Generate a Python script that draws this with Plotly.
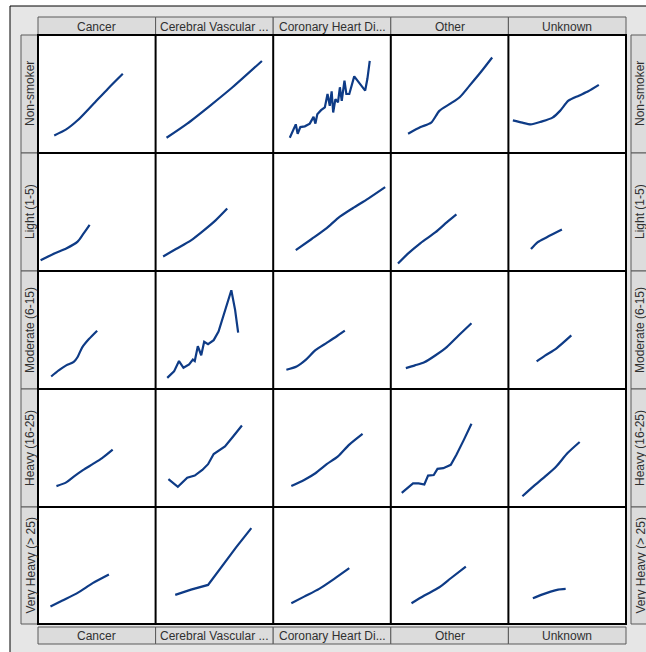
import plotly.graph_objects as go

# ---------------- data ----------------
row_labels = ["Non-smoker", "Light (1-5)", "Moderate (6-15)", "Heavy (16-25)", "Very Heavy (> 25)"]
col_labels = ["Cancer", "Cerebral Vascular ...", "Coronary Heart Di...", "Other", "Unknown"]

# each row: one list per column (Cancer, Cerebral, Coronary, Other, Unknown)
x_non_smoker = [
    [13.8, 24.0, 33.7, 46.5, 59.3, 72.1],
    [9.3, 26.9, 46.2, 65.4, 90.4],
    [14.1, 19.2, 20.8, 23.1, 26.9, 31.1, 34.3, 35.9, 37.5, 40.7, 43.9, 46.2, 48.1, 49.7,
     51.0, 52.9, 55.1, 56.7, 58.3, 60.6, 62.2, 64.7, 68.9, 73.7, 78.2, 80.1, 82.1],
    [14.7, 25.3, 34.3, 41.3, 51.0, 59.0, 67.0, 76.6, 86.2],
    [3.8, 11.9, 18.9, 27.9, 37.5, 43.9, 51.0, 59.9, 67.9, 76.9],
]
y_non_smoker = [
    [14.9, 20.0, 27.7, 40.9, 54.3, 67.1],
    [12.9, 24.9, 40.0, 55.7, 78.0],
    [12.9, 24.3, 16.3, 22.0, 22.6, 24.9, 30.6, 24.9, 32.9, 36.3, 38.6, 50.0, 40.0, 52.3,
     34.3, 45.7, 42.9, 55.7, 44.3, 61.4, 50.0, 50.0, 64.9, 59.1, 52.9, 62.9, 78.0],
    [16.3, 22.0, 25.7, 35.7, 42.0, 47.7, 57.1, 68.6, 80.9],
    [27.7, 25.7, 24.3, 26.6, 30.0, 35.7, 44.3, 48.6, 52.3, 57.7],
]

x_light = [
    [2.2, 14.4, 24.0, 33.7, 38.5, 43.9],
    [6.4, 17.3, 30.1, 39.7, 51.0, 60.9],
    [19.2, 32.7, 45.5, 55.1, 67.9, 80.8, 95.2],
    [6.1, 14.1, 25.3, 38.1, 47.8, 55.8],
    [19.2, 24.7, 32.7, 45.5],
]
y_light = [
    [9.1, 15.1, 19.1, 24.9, 31.4, 39.1],
    [12.3, 18.6, 26.0, 33.4, 42.9, 52.9],
    [17.7, 27.1, 36.3, 44.9, 53.4, 61.4, 71.1],
    [6.3, 14.3, 23.7, 32.9, 41.4, 48.0],
    [18.6, 24.3, 28.6, 35.1],
]

x_moderate = [
    [11.2, 17.6, 24.0, 30.4, 33.7, 37.5, 43.3, 50.3],
    [9.9, 15.7, 19.9, 23.7, 28.5, 31.7, 33.3, 35.9, 38.8, 41.3, 44.6, 49.4, 53.5, 57.4,
     61.2, 64.4, 67.6, 70.2],
    [11.2, 19.9, 27.9, 35.9, 45.5, 53.5, 60.9],
    [12.8, 20.5, 28.5, 38.1, 47.8, 57.4, 68.6],
    [24.0, 31.1, 40.7, 53.5],
]
y_moderate = [
    [10.6, 15.7, 20.0, 22.9, 27.1, 35.1, 42.3, 49.4],
    [9.4, 14.9, 23.7, 18.0, 20.9, 24.9, 23.7, 36.3, 28.6, 40.0, 38.0, 41.4, 48.6, 61.4,
     72.9, 83.7, 67.1, 47.7],
    [16.3, 19.1, 24.9, 32.9, 39.1, 44.3, 49.4],
    [17.7, 20.0, 22.6, 28.6, 35.7, 45.1, 55.7],
    [23.4, 28.3, 34.3, 45.4],
]

x_heavy = [
    [15.7, 24.0, 30.4, 38.5, 46.5, 54.5, 63.5],
    [10.9, 18.9, 26.9, 33.3, 39.7, 44.6, 49.4, 59.0, 65.4, 73.4],
    [15.4, 26.3, 35.9, 45.5, 55.1, 64.7, 76.0],
    [9.3, 14.1, 18.9, 23.7, 28.5, 31.7, 36.5, 39.7, 44.6, 51.0, 55.8, 62.2, 68.6],
    [11.9, 21.5, 31.1, 40.7, 50.3, 60.6],
]
y_heavy = [
    [17.7, 20.9, 25.7, 31.4, 36.3, 41.4, 48.6],
    [23.7, 17.1, 24.9, 26.6, 31.4, 36.3, 44.9, 51.4, 59.1, 69.1],
    [17.7, 22.9, 28.6, 36.3, 42.9, 52.9, 62.0],
    [12.0, 15.7, 20.0, 20.0, 19.1, 26.6, 27.1, 32.3, 32.9, 35.7, 44.3, 57.1, 70.6],
    [9.1, 17.7, 25.7, 34.3, 45.7, 55.1],
]

x_very_heavy = [
    [10.6, 20.8, 33.7, 46.5, 60.3],
    [16.7, 30.1, 44.6, 55.8, 68.6, 81.4],
    [15.4, 26.3, 39.1, 51.9, 64.7],
    [17.6, 28.5, 41.3, 51.0, 63.8],
    [20.8, 27.9, 35.9, 42.3, 48.7],
]
y_very_heavy = [
    [14.9, 20.0, 26.6, 34.9, 42.3],
    [24.9, 29.4, 33.4, 48.6, 65.7, 82.0],
    [17.7, 23.4, 30.0, 38.6, 47.7],
    [17.7, 24.3, 31.4, 39.1, 49.1],
    [22.0, 24.9, 27.7, 29.4, 30.0],
]

x_rows = [x_non_smoker, x_light, x_moderate, x_heavy, x_very_heavy]
y_rows = [y_non_smoker, y_light, y_moderate, y_heavy, y_very_heavy]

# cells whose curves are jagged are drawn with straight segments
jagged_cells = [(0, 2), (2, 1), (3, 1), (3, 3), (4, 1)]

# ---------------- layout geometry (pixels) ----------------
W, H = 646, 652
X_EDGES = [38, 155.6, 273.2, 390.8, 508.4, 626]
Y_EDGES = [35, 153, 271, 389, 507, 624]

def px(x):
    return x / W

def py(y):
    return 1 - y / H

LINE_COLOR = "#0e3b86"
PANEL = "#e6e6e6"
HEADER = "#dcdcdc"
HEADER_BORDER = "#5a5a5a"
TEXT = "#303030"
FONT = "Liberation Sans, Arial, sans-serif"

fig = go.Figure()
layout_axes = {}
for r in range(5):
    for c in range(5):
        k = r * 5 + c + 1
        xa = "xaxis" if k == 1 else f"xaxis{k}"
        ya = "yaxis" if k == 1 else f"yaxis{k}"
        shape = "linear" if (r, c) in jagged_cells else "spline"
        fig.add_trace(go.Scatter(
            x=x_rows[r][c], y=y_rows[r][c], mode="lines",
            line=dict(color=LINE_COLOR, width=2.2, shape=shape, smoothing=0.7),
            xaxis="x" if k == 1 else f"x{k}",
            yaxis="y" if k == 1 else f"y{k}",
            showlegend=False, hoverinfo="skip",
        ))
        common = dict(range=[0, 100], showgrid=False, zeroline=False, showline=False,
                      showticklabels=False, ticks="", fixedrange=True)
        layout_axes[xa] = dict(domain=[px(X_EDGES[c]), px(X_EDGES[c + 1])],
                               anchor="y" if k == 1 else f"y{k}", **common)
        layout_axes[ya] = dict(domain=[py(Y_EDGES[r + 1]), py(Y_EDGES[r])],
                               anchor="x" if k == 1 else f"x{k}", **common)

shapes = []
# outer gray panel
shapes.append(dict(type="rect", xref="paper", yref="paper", layer="below",
                   x0=px(10), x1=px(700), y0=py(700), y1=py(6),
                   fillcolor=PANEL, line=dict(color="black", width=1)))
# white cell area
shapes.append(dict(type="rect", xref="paper", yref="paper", layer="below",
                   x0=px(X_EDGES[0]), x1=px(X_EDGES[-1]), y0=py(Y_EDGES[-1]), y1=py(Y_EDGES[0]),
                   fillcolor="white", line=dict(width=0)))

annotations = []
# column headers (top and bottom)
for c, lab in enumerate(col_labels):
    for (ytop, ybot) in [(17, 35), (627, 644)]:
        shapes.append(dict(type="rect", xref="paper", yref="paper", layer="below",
                           x0=px(X_EDGES[c]), x1=px(X_EDGES[c + 1]), y0=py(ybot), y1=py(ytop),
                           fillcolor=HEADER, line=dict(color=HEADER_BORDER, width=1)))
        annotations.append(dict(text=lab, xref="paper", yref="paper",
                                x=px((X_EDGES[c] + X_EDGES[c + 1]) / 2), y=py((ytop + ybot) / 2 + 0.5),
                                xanchor="center", yanchor="middle", showarrow=False,
                                font=dict(family=FONT, size=12, color=TEXT)))
# row headers (left and right)
for r, lab in enumerate(row_labels):
    for (xl, xr) in [(21, 38), (631, 648)]:
        shapes.append(dict(type="rect", xref="paper", yref="paper", layer="below",
                           x0=px(xl), x1=px(xr), y0=py(Y_EDGES[r + 1]), y1=py(Y_EDGES[r]),
                           fillcolor=HEADER, line=dict(color=HEADER_BORDER, width=1)))
        annotations.append(dict(text=lab, xref="paper", yref="paper",
                                x=px((xl + xr) / 2 + 0.5), y=py((Y_EDGES[r] + Y_EDGES[r + 1]) / 2),
                                xanchor="center", yanchor="middle", showarrow=False, textangle=-90,
                                font=dict(family=FONT, size=12, color=TEXT)))

# black cell grid lines
for xe in X_EDGES:
    shapes.append(dict(type="line", xref="paper", yref="paper", layer="above",
                       x0=px(xe), x1=px(xe), y0=py(Y_EDGES[-1] + 1), y1=py(Y_EDGES[0] - 1),
                       line=dict(color="black", width=2)))
for ye in Y_EDGES:
    shapes.append(dict(type="line", xref="paper", yref="paper", layer="above",
                       x0=px(X_EDGES[0] - 1), x1=px(X_EDGES[-1] + 1), y0=py(ye), y1=py(ye),
                       line=dict(color="black", width=2)))

fig.update_layout(
    width=W, height=H, margin=dict(l=0, r=0, t=0, b=0),
    paper_bgcolor="white", plot_bgcolor="rgba(0,0,0,0)",
    shapes=shapes, annotations=annotations, showlegend=False,
    **layout_axes,
)

fig.write_html("out.html")
